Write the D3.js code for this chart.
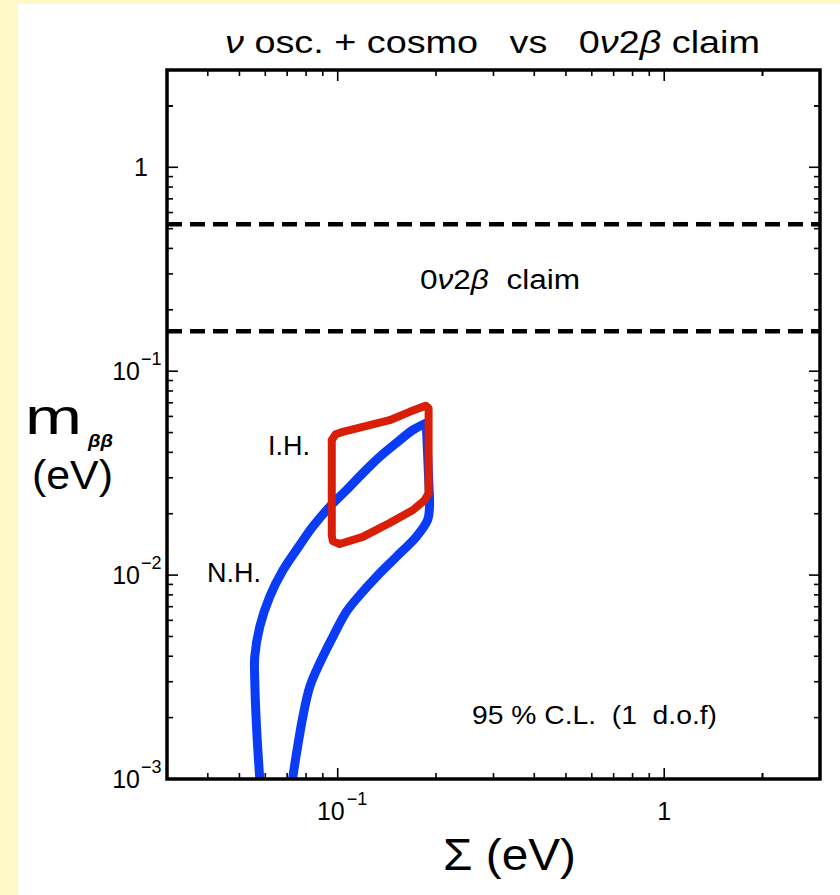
<!DOCTYPE html>
<html>
<head>
<meta charset="utf-8">
<script src="https://cdn.jsdelivr.net/npm/d3@7"></script>
<style>
  html, body { margin: 0; padding: 0; background: #ffffff; }
  svg { display: block; }
  text { font-family: "Liberation Sans", Arial, sans-serif; fill: #000; }
</style>
</head>
<body>
<svg id="chart" width="840" height="895"></svg>
<script>
// Sum of neutrino masses (eV) vs effective Majorana mass m_bb (eV), 95% C.L. regions

// Normal hierarchy: outer edge, from the bottom of the plot upward
const nhOuterSum = [0.0577, 0.0564, 0.0557, 0.0557, 0.0577, 0.0619, 0.0680, 0.0765, 0.0838, 0.0945,
                    0.1063, 0.1193, 0.1344, 0.1512, 0.1696, 0.1867];
const nhOuterMbb = [0.00100, 0.00181, 0.00306, 0.00398, 0.00558, 0.00783, 0.01058, 0.01403, 0.01725, 0.02162,
                    0.0261, 0.0316, 0.0380, 0.0444, 0.0514, 0.0556];
// Normal hierarchy: inner edge, from the upper-right end down to the bottom
const nhInnerSum = [0.1910, 0.1910, 0.1884, 0.1740, 0.1512, 0.1313, 0.1168, 0.1063, 0.0966, 0.0881, 0.0821,
                    0.0782, 0.0748, 0.0727];
const nhInnerMbb = [0.0240, 0.0215, 0.0186, 0.01541, 0.01229, 0.00981, 0.00798, 0.00661, 0.00498, 0.00370, 0.00283,
                    0.00202, 0.00134, 0.00100];

// Inverted hierarchy region (closed contour)
const ihSum = [0.0959, 0.0986, 0.1036, 0.1193, 0.1442, 0.1660, 0.1858, 0.1898, 0.1898,
               0.1845, 0.1696, 0.1442, 0.1193, 0.1014, 0.0966, 0.0959, 0.0959];
const ihMbb = [0.0459, 0.0491, 0.0504, 0.0533, 0.0575, 0.0632, 0.0677, 0.0659, 0.0252,
               0.0233, 0.0208, 0.0180, 0.0154, 0.0142, 0.01468, 0.0157, 0.0459];

// 0νββ claim band (bounds of m_bb)
const claimBounds = [0.157, 0.525];

// Axis ranges and labelled ticks
const xDomain = [0.03, 3];
const yDomain = [0.001, 3];
const xTickLabels = [{v: 0.1, base: "10", exp: "−1"}, {v: 1, base: "1", exp: ""}];
const yTickLabels = [{v: 1, base: "1", exp: ""}, {v: 0.1, base: "10", exp: "−1"},
                     {v: 0.01, base: "10", exp: "−2"}, {v: 0.001, base: "10", exp: "−3"}];

const svg = d3.select("#chart");
const W = 840, H = 895;
const L = 167, R = 820, T = 70, B = 779;

// page border strips
svg.append("rect").attr("x", 0).attr("y", 0).attr("width", W).attr("height", H).attr("fill", "#ffffff");
svg.append("rect").attr("x", 0).attr("y", 0).attr("width", 18).attr("height", H).attr("fill", "#FFF9C8");
svg.append("rect").attr("x", 0).attr("y", 0).attr("width", W).attr("height", 4).attr("fill", "#FFF9C8");

const x = d3.scaleLog().domain(xDomain).range([L, R]);
const y = d3.scaleLog().domain(yDomain).range([B, T]);

svg.append("clipPath").attr("id", "plotclip")
  .append("rect").attr("x", L).attr("y", T).attr("width", R - L).attr("height", B - T);

const plot = svg.append("g").attr("clip-path", "url(#plotclip)");

// claim band boundaries
plot.selectAll("line.claim").data(claimBounds).join("line")
  .attr("class", "claim")
  .attr("x1", L).attr("x2", R)
  .attr("y1", d => y(d)).attr("y2", d => y(d))
  .attr("stroke", "#000").attr("stroke-width", 4.5)
  .attr("stroke-dasharray", "15,8");

const smooth = d3.line().x(d => x(d[0])).y(d => y(d[1])).curve(d3.curveCatmullRom.alpha(0.5));
const straight = d3.line().x(d => x(d[0])).y(d => y(d[1])).curve(d3.curveLinear);

const nhOuter = nhOuterSum.map((s, i) => [s, nhOuterMbb[i]]);
const nhInner = nhInnerSum.map((s, i) => [s, nhInnerMbb[i]]);
const nhEdge = [nhOuter[nhOuter.length - 1], nhInner[0]];
const ih = ihSum.map((s, i) => [s, ihMbb[i]]);

const blue = "#0A3CF5";
[smooth(nhOuter), straight(nhEdge), smooth(nhInner)].forEach(d => {
  plot.append("path").attr("d", d)
    .attr("fill", "none").attr("stroke", blue).attr("stroke-width", 9)
    .attr("stroke-linejoin", "round").attr("stroke-linecap", "round");
});

plot.append("path")
  .attr("d", straight(ih))
  .attr("fill", "none").attr("stroke", "#D91E08").attr("stroke-width", 8)
  .attr("stroke-linejoin", "round").attr("stroke-linecap", "round");

// ticks on all four sides (inward)
const minor = [];
for (let e = -3; e <= 0; e++) for (let m = 2; m <= 9; m++) minor.push(m * Math.pow(10, e));
const xMajor = [0.1, 1];
const yMajor = [0.001, 0.01, 0.1, 1];
const xMinor = minor.filter(v => v > xDomain[0] && v < xDomain[1]).concat([2]);
const yMinor = minor.filter(v => v > yDomain[0] && v < yDomain[1]).concat([2]);

const ticks = svg.append("g").attr("stroke", "#000").attr("stroke-width", 1.6);
function xt(vals, len) {
  vals.forEach(v => {
    ticks.append("line").attr("x1", x(v)).attr("x2", x(v)).attr("y1", B).attr("y2", B - len);
    ticks.append("line").attr("x1", x(v)).attr("x2", x(v)).attr("y1", T).attr("y2", T + len);
  });
}
function yt(vals, len) {
  vals.forEach(v => {
    ticks.append("line").attr("y1", y(v)).attr("y2", y(v)).attr("x1", L).attr("x2", L + len);
    ticks.append("line").attr("y1", y(v)).attr("y2", y(v)).attr("x1", R).attr("x2", R - len);
  });
}
xt(xMajor, 11); xt(xMinor, 6);
yt(yMajor, 11); yt(yMinor, 6);

// frame
svg.append("rect").attr("x", L).attr("y", T).attr("width", R - L).attr("height", B - T)
  .attr("fill", "none").attr("stroke", "#000").attr("stroke-width", 3.5);

// tick labels
xTickLabels.forEach(t => {
  if (t.exp) {
    svg.append("text").attr("x", x(t.v) + 7).attr("y", 820).attr("text-anchor", "end")
      .style("font-size", "25px").text(t.base);
    svg.append("text").attr("x", x(t.v) + 9).attr("y", 805).attr("text-anchor", "start")
      .style("font-size", "18px").text(t.exp);
  } else {
    svg.append("text").attr("x", x(t.v)).attr("y", 820).attr("text-anchor", "middle")
      .style("font-size", "25px").text(t.base);
  }
});
yTickLabels.forEach(t => {
  if (t.exp) {
    svg.append("text").attr("x", 140).attr("y", y(t.v) + 9).attr("text-anchor", "end")
      .style("font-size", "25px").text(t.base);
    svg.append("text").attr("x", 141).attr("y", y(t.v) - 6).attr("text-anchor", "start")
      .style("font-size", "18px").text(t.exp);
  } else {
    svg.append("text").attr("x", 148).attr("y", y(t.v) + 9).attr("text-anchor", "end")
      .style("font-size", "25px").text(t.base);
  }
});

// title
const title = svg.append("text").attr("x", 225).attr("y", 53)
  .style("font-size", "31px").attr("xml:space", "preserve")
  .attr("textLength", 535).attr("lengthAdjust", "spacingAndGlyphs");
title.append("tspan").style("font-style", "italic").text("ν");
title.append("tspan").text(" osc. + cosmo   vs   0");
title.append("tspan").style("font-style", "italic").text("ν");
title.append("tspan").text("2");
title.append("tspan").style("font-style", "italic").text("β");
title.append("tspan").text(" claim");

// axis titles
svg.append("text").attr("x", 443).attr("y", 870)
  .style("font-size", "44px").attr("xml:space", "preserve")
  .attr("textLength", 133).attr("lengthAdjust", "spacingAndGlyphs").text("Σ (eV)");

svg.append("text").attr("x", 25).attr("y", 434).style("font-size", "50px")
  .attr("textLength", 57).attr("lengthAdjust", "spacingAndGlyphs").text("m");
svg.append("text").attr("x", 88).attr("y", 447).style("font-size", "19px")
  .style("font-style", "italic").style("font-weight", "bold")
  .attr("textLength", 25).attr("lengthAdjust", "spacingAndGlyphs").text("ββ");
svg.append("text").attr("x", 32).attr("y", 489).style("font-size", "40px")
  .attr("textLength", 81).attr("lengthAdjust", "spacingAndGlyphs").text("(eV)");

// annotations
const claim = svg.append("text").attr("x", 420).attr("y", 289)
  .style("font-size", "27px").attr("xml:space", "preserve")
  .attr("textLength", 160).attr("lengthAdjust", "spacingAndGlyphs");
claim.append("tspan").text("0");
claim.append("tspan").style("font-style", "italic").text("ν");
claim.append("tspan").text("2");
claim.append("tspan").style("font-style", "italic").text("β");
claim.append("tspan").text("  claim");

svg.append("text").attr("x", 268).attr("y", 455).style("font-size", "27px").text("I.H.");
svg.append("text").attr("x", 207).attr("y", 582).style("font-size", "27px").text("N.H.");
svg.append("text").attr("x", 472).attr("y", 724).style("font-size", "26px")
  .attr("xml:space", "preserve")
  .attr("textLength", 245).attr("lengthAdjust", "spacingAndGlyphs").text("95 % C.L.  (1  d.o.f)");
</script>
</body>
</html>
